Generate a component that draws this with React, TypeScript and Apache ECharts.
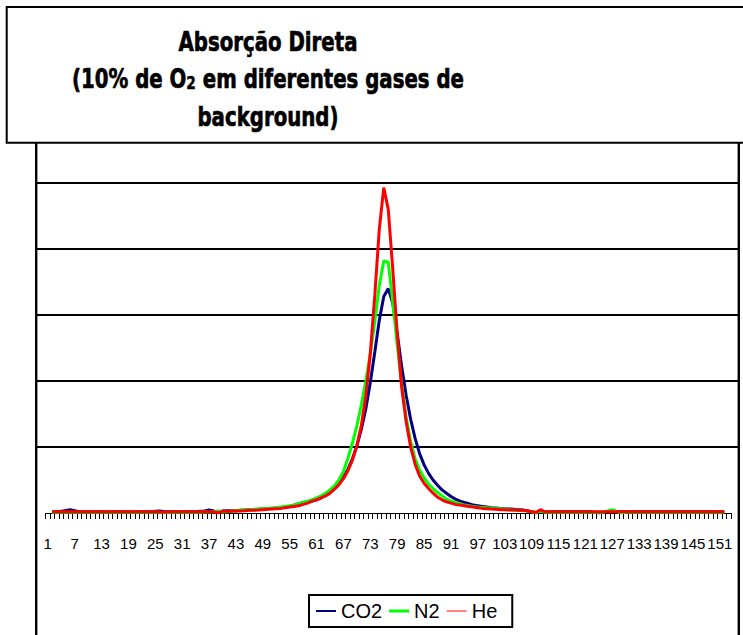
import React, { useEffect, useRef } from "react";
import * as echarts from "echarts";

const categories: string[] = Array.from({ length: 153 }, (_, i) => String(i + 1));

const seriesNames = ["CO2", "N2", "He"];

const co2: (number | null)[] = [
  null,
  0.02, 0.02, 0.025, 0.04, 0.05, 0.035, 0.02, 0.02, 0.015,
  0.02, 0.02, 0.02, 0.015, 0.02, 0.02, 0.02, 0.02, 0.015, 0.02,
  0.02, 0.02, 0.02, 0.02, 0.025, 0.03, 0.02, 0.02, 0.02, 0.02,
  0.02, 0.02, 0.02, 0.02, 0.025, 0.03, 0.045, 0.03, 0.01, 0.03,
  0.035, 0.035, 0.035, 0.04, 0.045, 0.05, 0.05, 0.055, 0.06, 0.065,
  0.07, 0.075, 0.08, 0.09, 0.1, 0.12, 0.14, 0.16, 0.17, 0.18,
  0.2, 0.23, 0.27, 0.32, 0.38, 0.45, 0.54, 0.66, 0.82, 1.02,
  1.27, 1.58, 1.98, 2.44, 2.92, 3.28, 3.4, 3.18, 2.72, 2.22,
  1.78, 1.42, 1.13, 0.9, 0.73, 0.6, 0.5, 0.42, 0.35, 0.3,
  0.25, 0.21, 0.18, 0.16, 0.14, 0.12, 0.11, 0.1, 0.09, 0.08,
  0.075, 0.07, 0.065, 0.06, 0.055, 0.05, 0.045, 0.035, 0.02, 0.0,
  0.03, 0.015, 0.02, 0.02, 0.02, 0.02, 0.02, 0.02, 0.02, 0.02,
  0.02, 0.02, 0.01, 0.0, 0.01, 0.02, 0.02, 0.02, 0.02, 0.02,
  0.02, 0.02, 0.02, 0.02, 0.02, 0.02, 0.02, 0.02, 0.02, 0.02,
  0.02, 0.02, 0.02, 0.02, 0.02, 0.02, 0.02, 0.02, 0.02, 0.02,
  0.02, 0.02,
  null,
];

const n2: (number | null)[] = [
  null,
  0.01, 0.01, 0.01, 0.015, 0.01, 0.01, 0.01, 0.01, 0.01,
  0.01, 0.01, 0.01, 0.01, 0.01, 0.01, 0.01, 0.01, 0.01, 0.01,
  0.01, 0.01, 0.01, 0.01, 0.015, 0.01, 0.005, 0.01, 0.01, 0.01,
  0.01, 0.01, 0.01, 0.01, 0.01, 0.015, 0.015, 0.02, 0.03, 0.015,
  0.02, 0.03, 0.035, 0.04, 0.045, 0.05, 0.055, 0.06, 0.065, 0.07,
  0.075, 0.08, 0.09, 0.1, 0.11, 0.12, 0.14, 0.16, 0.18, 0.2,
  0.23, 0.26, 0.3, 0.35, 0.41, 0.5, 0.63, 0.83, 1.06, 1.32,
  1.64, 2.0, 2.42, 2.9, 3.45, 3.82, 3.8, 3.2, 2.55, 1.95,
  1.45, 1.08, 0.82, 0.65, 0.53, 0.44, 0.37, 0.31, 0.26, 0.21,
  0.18, 0.16, 0.14, 0.12, 0.11, 0.1, 0.09, 0.085, 0.08, 0.075,
  0.07, 0.065, 0.06, 0.05, 0.045, 0.04, 0.035, 0.03, 0.02, 0.005,
  0.03, 0.01, 0.01, 0.01, 0.01, 0.01, 0.01, 0.01, 0.01, 0.01,
  0.01, 0.01, 0.01, 0.01, 0.01, 0.03, 0.05, 0.02, 0.0, 0.01,
  0.01, 0.01, 0.01, 0.01, 0.01, 0.01, 0.01, 0.01, 0.01, 0.01,
  0.01, 0.01, 0.01, 0.01, 0.01, 0.01, 0.01, 0.01, 0.01, 0.01,
  0.01, 0.01,
  null,
];

const he: (number | null)[] = [
  null,
  0.02, 0.02, 0.02, 0.02, 0.02, 0.02, 0.02, 0.02, 0.02,
  0.02, 0.02, 0.02, 0.02, 0.02, 0.02, 0.02, 0.02, 0.02, 0.02,
  0.02, 0.02, 0.02, 0.02, 0.02, 0.015, 0.01, 0.02, 0.02, 0.02,
  0.02, 0.02, 0.02, 0.02, 0.02, 0.02, 0.02, 0.02, 0.005, 0.025,
  0.025, 0.028, 0.03, 0.032, 0.035, 0.04, 0.042, 0.045, 0.05, 0.055,
  0.06, 0.065, 0.07, 0.08, 0.09, 0.1, 0.11, 0.13, 0.15, 0.18,
  0.2, 0.23, 0.26, 0.3, 0.36, 0.43, 0.52, 0.64, 0.8, 1.02,
  1.33, 1.78, 2.42, 3.3, 4.3, 4.93, 4.6, 3.7, 2.72, 1.9,
  1.38, 1.0, 0.74, 0.56, 0.45, 0.37, 0.3, 0.24, 0.2, 0.17,
  0.15, 0.13, 0.12, 0.11, 0.1, 0.09, 0.08, 0.07, 0.065, 0.06,
  0.055, 0.05, 0.05, 0.045, 0.045, 0.04, 0.04, 0.035, 0.02, 0.01,
  0.05, 0.015, 0.02, 0.02, 0.02, 0.02, 0.02, 0.02, 0.02, 0.02,
  0.02, 0.02, 0.02, 0.02, 0.02, 0.02, 0.02, 0.02, 0.02, 0.02,
  0.02, 0.02, 0.02, 0.02, 0.02, 0.02, 0.02, 0.02, 0.02, 0.02,
  0.02, 0.02, 0.02, 0.02, 0.02, 0.02, 0.02, 0.02, 0.02, 0.02,
  0.02, 0.02,
  null,
];

const colors = ["#000080", "#00ff00", "#ff0000"];
const legendIcons = [
  "path://M0 0H20V2H0Z",
  "path://M0 0H20V3H0Z",
  "path://M0 0H20V1H0Z",
];

export default function App() {
  const ref = useRef<HTMLDivElement>(null);

  useEffect(() => {
    if (!ref.current) return;
    const chart = echarts.init(ref.current, null, { renderer: "svg" });
    const dataSets = [co2, n2, he];

    const titleFont = "DejaVu Sans";
    const titleStyle = (text: string, extra: any = {}) => ({
      text,
      fill: "#000",
      stroke: "#000",
      lineWidth: 0.7,
      font: `bold 26px '${titleFont}'`,
      align: "center",
      verticalAlign: "middle",
      ...extra,
    });

    const option: any = {
      animation: false,
      backgroundColor: "#ffffff",
      grid: [
        { left: 45.5, right: 12, top: 183, bottom: 122, containLabel: false },
        { left: 36, right: 4, top: 183, bottom: 122, containLabel: false },
      ],
      xAxis: [
        {
          type: "category",
          gridIndex: 0,
          data: categories,
          boundaryGap: true,
          axisLine: { show: true, lineStyle: { color: "#000", width: 1 } },
          axisTick: { show: true, interval: 0, length: 6, lineStyle: { color: "#000", width: 1 } },
          axisLabel: {
            interval: 5,
            color: "#000",
            fontSize: 15,
            fontFamily: "Liberation Sans, Arial",
            margin: 23,
            hideOverlap: false,
          },
          splitLine: { show: false },
        },
        {
          type: "value",
          gridIndex: 1,
          min: 0,
          max: 1,
          show: false,
        },
      ],
      yAxis: [
        {
          type: "value",
          gridIndex: 0,
          min: 0,
          max: 5,
          interval: 1,
          axisLine: { show: false },
          axisTick: { show: false },
          axisLabel: { show: false },
          splitLine: { show: false },
        },
        {
          type: "value",
          gridIndex: 1,
          min: 0,
          max: 5,
          interval: 1,
          axisLine: { show: false },
          axisTick: { show: false },
          axisLabel: { show: false },
          splitLine: { show: true, showMinLine: false, lineStyle: { color: "#000", width: 2 } },
        },
      ],
      legend: {
        left: 309,
        top: 595,
        orient: "horizontal",
        data: seriesNames.map((n, i) => ({ name: n, icon: legendIcons[i] })),
        itemWidth: 20,
        itemHeight: 14,
        itemGap: 7,
        symbolKeepAspect: true,
        padding: [6, 15, 6, 7],
        borderColor: "#000",
        borderWidth: 2,
        backgroundColor: "#fff",
        textStyle: { color: "#000", fontSize: 20, fontFamily: "Liberation Sans, Arial" },
      },
      series: seriesNames.map((n, i) => ({
        name: n,
        type: "line",
        xAxisIndex: 0,
        yAxisIndex: 0,
        data: dataSets[i],
        symbol: "none",
        showSymbol: false,
        connectNulls: false,
        lineStyle: { color: colors[i], width: 3 },
        itemStyle: { color: colors[i] },
        z: 2 + i,
      })),
      graphic: [
        {
          type: "rect",
          z: 1,
          shape: { x: 36.2, y: 120, width: 702.6, height: 560 },
          style: { fill: "none", stroke: "#000", lineWidth: 2.4 },
        },
        {
          type: "rect",
          z: 100,
          shape: { x: 6.7, y: 7, width: 760, height: 135.7 },
          style: { fill: "#fff", stroke: "#000", lineWidth: 2 },
        },
        {
          type: "text",
          z: 101,
          x: 268,
          y: 41.5,
          scaleX: 0.76,
          style: titleStyle("Absorção Direta"),
        },
        {
          type: "text",
          z: 101,
          x: 268,
          y: 79,
          scaleX: 0.76,
          style: titleStyle("(10% de O{s|2} em diferentes gases de", {
            rich: {
              s: {
                fontSize: 18,
                fontWeight: "bold",
                fontFamily: titleFont,
                fill: "#000",
                stroke: "#000",
                lineWidth: 0.5,
                verticalAlign: "bottom",
              },
            },
          }),
        },
        {
          type: "text",
          z: 101,
          x: 268,
          y: 116.5,
          scaleX: 0.76,
          style: titleStyle("background)"),
        },
      ],
    };
    chart.setOption(option);
    return () => chart.dispose();
  }, []);

  return (
    <div
      ref={ref}
      style={{ position: "fixed", left: 0, top: 0, width: 743, height: 635, background: "#fff" }}
    />
  );
}
